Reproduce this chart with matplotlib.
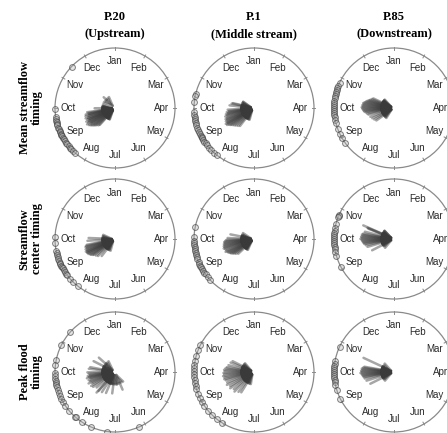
import numpy as np
import matplotlib
matplotlib.use("Agg")
import matplotlib.pyplot as plt
from matplotlib.patches import Circle

# ---------------- data ----------------
months = ["Jan", "Feb", "Mar", "Apr", "May", "Jun",
          "Jul", "Aug", "Sep", "Oct", "Nov", "Dec"]
col_titles = ["P.20", "P.1", "P.85"]
col_subtitles = ["(Upstream)", "(Middle stream)", "(Downstream)"]
row_titles = ["Mean streamflow\ntiming", "Streamflow\ncenter timing", "Peak flood\ntiming"]

# timing (day of year, Jan 1 at top, clockwise) of each year's event
mean_p20 = [318, 273, 265, 263, 261, 260, 258, 257, 254, 253, 251, 250, 248,
            247, 245, 243, 242, 240, 238, 236, 234, 232, 230, 227, 225]
mean_p1 = [287, 285, 280, 270, 267, 265, 263, 261, 259, 257, 254, 252, 250,
           248, 246, 244, 243, 241, 239, 237, 235, 232, 229, 225, 221]
mean_p85 = [299, 296, 293, 291, 289, 287, 285, 283, 281, 279, 277, 275, 273,
            271, 269, 267, 265, 262, 259, 253, 248, 243, 238]
center_p20 = [276, 270, 262, 260, 258, 256, 254, 252, 250, 249, 247, 246,
              244, 242, 240, 238, 236, 232, 228, 221]
center_p1 = [285, 276, 272, 270, 268, 266, 264, 262, 260, 258, 256, 254, 251,
             249, 247, 245, 243, 241, 239, 237, 234, 230]
center_p85 = [298, 297, 296, 288, 284, 282, 280, 278, 276, 274, 272, 270,
              268, 266, 264, 261, 257, 246]
peak_p20 = [316, 301, 285, 281, 273, 270, 267, 265, 263, 261, 259, 256, 253,
            250, 247, 243, 239, 233, 225, 224, 216, 206, 190, 159]
peak_p1 = [301, 296, 289, 284, 281, 278, 275, 272, 269, 266, 263, 260, 257,
           252, 248, 243, 239, 233, 228, 221, 215]
peak_p85 = [299, 284, 282, 280, 278, 276, 274, 272, 270, 268, 266, 264, 261,
            256, 247]

# relative vector length (fraction of circle radius) of each year
len_mean_p20 = [0.26, 0.34, 0.47, 0.45, 0.50, 0.44, 0.51, 0.46, 0.52, 0.48, 0.50,
                0.46, 0.53, 0.48, 0.51, 0.54, 0.46, 0.52, 0.50, 0.48, 0.46, 0.44,
                0.42, 0.40, 0.38]
len_mean_p1 = [0.36, 0.38, 0.41, 0.44, 0.42, 0.46, 0.44, 0.48, 0.46, 0.50, 0.48,
               0.51, 0.49, 0.52, 0.50, 0.54, 0.51, 0.53, 0.50, 0.48, 0.46, 0.44,
               0.42, 0.40, 0.38]
len_mean_p85 = [0.38, 0.40, 0.42, 0.44, 0.46, 0.48, 0.50, 0.52, 0.51, 0.53, 0.52,
                0.54, 0.53, 0.52, 0.51, 0.50, 0.48, 0.46, 0.44, 0.42, 0.40, 0.38,
                0.36]
len_center_p20 = [0.44, 0.46, 0.48, 0.50, 0.51, 0.49, 0.52, 0.50, 0.53, 0.51,
                  0.52, 0.50, 0.51, 0.49, 0.48, 0.46, 0.44, 0.42, 0.40, 0.36]
len_center_p1 = [0.40, 0.44, 0.46, 0.48, 0.50, 0.49, 0.51, 0.50, 0.52, 0.51,
                 0.53, 0.51, 0.50, 0.52, 0.49, 0.48, 0.46, 0.45, 0.43, 0.41,
                 0.39, 0.36]
len_center_p85 = [0.56, 0.48, 0.46, 0.50, 0.52, 0.54, 0.53, 0.55, 0.54, 0.56,
                  0.54, 0.53, 0.52, 0.51, 0.50, 0.48, 0.46, 0.41]
len_peak_p20 = [0.36, 0.40, 0.42, 0.44, 0.46, 0.44, 0.42, 0.46, 0.44, 0.48,
                0.42, 0.46, 0.44, 0.48, 0.42, 0.46, 0.44, 0.40, 0.46, 0.42,
                0.40, 0.38, 0.36, 0.32]
len_peak_p1 = [0.40, 0.42, 0.44, 0.46, 0.48, 0.50, 0.49, 0.51, 0.50, 0.52,
               0.50, 0.51, 0.49, 0.48, 0.50, 0.46, 0.48, 0.44, 0.46, 0.42, 0.40]
len_peak_p85 = [0.56, 0.50, 0.52, 0.54, 0.53, 0.55, 0.54, 0.56, 0.54, 0.53,
                0.52, 0.51, 0.50, 0.48, 0.44]

timing = [[mean_p20, mean_p1, mean_p85],
          [center_p20, center_p1, center_p85],
          [peak_p20, peak_p1, peak_p85]]
lengths = [[len_mean_p20, len_mean_p1, len_mean_p85],
           [len_center_p20, len_center_p1, len_center_p85],
           [len_peak_p20, len_peak_p1, len_peak_p85]]

# ---------------- layout ----------------
W, H = 447, 433
fig = plt.figure(figsize=(W / 100, H / 100), dpi=100)

cx_px = [115, 254, 394]
cy_px = [108, 239, 372]
R = 60

serif = ["Liberation Serif", "DejaVu Serif"]
sans = ["Liberation Sans", "DejaVu Sans"]


def doy_to_rad(d):
    return np.deg2rad(np.asarray(d, dtype=float) / 365.0 * 360.0)


def to_xy(theta, r):
    # clockwise from top
    return r * np.sin(theta), r * np.cos(theta)


for i in range(3):
    for j in range(3):
        left = (cx_px[j] - R) / W
        bottom = (H - cy_px[i] - R) / H
        ax = fig.add_axes([left, bottom, 2 * R / W, 2 * R / H])
        ax.set_xlim(-1, 1)
        ax.set_ylim(-1, 1)
        ax.set_aspect("equal")
        ax.axis("off")

        ax.add_patch(Circle((0, 0), 1, fill=False, ec="#8a8a8a", lw=0.9,
                            clip_on=False))

        # month ticks and labels
        for k, m in enumerate(months):
            th = np.deg2rad(k * 30)
            x0, y0 = to_xy(th, 0.965)
            x1, y1 = to_xy(th, 1.02)
            ax.plot([x0, x1], [y0, y1], color="#8a8a8a", lw=0.7, clip_on=False)
            xt, yt = to_xy(th, 0.775)
            ax.text(xt, yt, m, ha="center", va="center", fontsize=7,
                    family=sans, color="#2a2a2a")

        th = doy_to_rad(timing[i][j])
        ln = np.asarray(lengths[i][j])
        # vectors (drawn toward the centre)
        xs, ys = to_xy(th, ln)
        for x, y in zip(xs, ys):
            ax.annotate("", xy=(0, 0), xytext=(x, y),
                        arrowprops=dict(arrowstyle="-|>,head_length=0.7,head_width=0.3",
                                        color="#3a3a3a", lw=1.8,
                                        alpha=0.45, shrinkA=0, shrinkB=0,
                                        mutation_scale=9))
        # yearly timing on the circle
        px, py = to_xy(th, np.ones_like(th))
        ax.plot(px, py, "o", ms=4.2, mfc=(0.7, 0.7, 0.7, 0.35),
                mec=(0.25, 0.25, 0.25, 0.65), mew=0.7, clip_on=False, zorder=5)

# column titles
for j in range(3):
    x = cx_px[j] / W
    fig.text(x, 1 - 17.5 / H, col_titles[j], ha="center", va="center",
             fontsize=9, fontweight="bold", family=serif)
    fig.text(x, 1 - 34 / H, col_subtitles[j], ha="center", va="center",
             fontsize=9, fontweight="bold", family=serif)

# row titles
for i in range(3):
    fig.text(31 / W, 1 - cy_px[i] / H, row_titles[i], ha="center", va="center",
             rotation=90, fontsize=9, fontweight="bold", family=serif,
             linespacing=1.05, multialignment="center")

fig.savefig("out.png", dpi=100)
